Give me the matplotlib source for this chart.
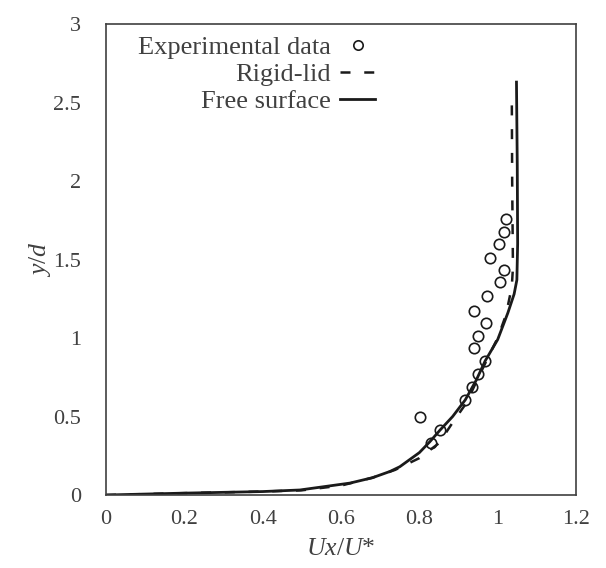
import matplotlib
matplotlib.use("Agg")
import matplotlib.pyplot as plt

plt.rcParams['font.family'] = ['Liberation Serif', 'DejaVu Serif']
plt.rcParams['mathtext.fontset'] = 'custom'
plt.rcParams['mathtext.it'] = 'Liberation Serif:italic'
plt.rcParams['mathtext.rm'] = 'Liberation Serif'

# Experimental data
exp_x = [1.021, 1.015, 1.003, 0.980, 1.016, 1.006, 0.973, 0.940, 0.970, 0.950,
         0.940, 0.968, 0.950, 0.934, 0.917, 0.802, 0.853, 0.830]
exp_y = [1.758, 1.675, 1.599, 1.510, 1.433, 1.357, 1.268, 1.172, 1.096, 1.013,
         0.936, 0.854, 0.771, 0.688, 0.605, 0.497, 0.414, 0.331]

# Rigid-lid model
rl_x = [0.0, 0.2, 0.4, 0.5, 0.6, 0.68, 0.738, 0.80, 0.85, 0.886, 0.92, 0.95,
        0.98, 1.0, 1.021, 1.036, 1.039, 1.037, 1.036]
rl_y = [0.0, 0.012, 0.022, 0.03, 0.06, 0.11, 0.16, 0.235, 0.33, 0.465, 0.586,
        0.745, 0.9, 1.0, 1.146, 1.325, 1.45, 2.0, 2.56]

# Free-surface model
fs_x = [0.0, 0.2, 0.4, 0.495, 0.623, 0.68, 0.725, 0.75, 0.80, 0.827, 0.853,
        0.885, 0.917, 0.945, 0.968, 1.0, 1.026, 1.042, 1.049, 1.051, 1.050, 1.048]
fs_y = [0.0, 0.012, 0.022, 0.032, 0.076, 0.11, 0.15, 0.18, 0.27, 0.34, 0.414,
        0.50, 0.605, 0.73, 0.854, 0.99, 1.16, 1.28, 1.37, 1.6, 2.1, 2.63]

x_ticks = [0, 0.2, 0.4, 0.6, 0.8, 1, 1.2]
x_tick_labels = ['0', '0.2', '0.4', '0.6', '0.8', '1', '1.2']
y_ticks = [0, 0.5, 1, 1.5, 2, 2.5, 3]
y_tick_labels = ['0', '0.5', '1', '1.5', '2', '2.5', '3']

fig = plt.figure(figsize=(6.06, 5.68), dpi=100)
ax = fig.add_axes([0.175, 0.1285, 0.7755, 0.8292])

line_col = '#1a1a1a'
ax.plot(exp_x, exp_y, linestyle='none', marker='o', markersize=7.5,
        markerfacecolor='none', markeredgecolor=line_col, markeredgewidth=1.2,
        label='Experimental data')
ax.plot(rl_x, rl_y, linestyle=(0, (4, 5.5)), color=line_col, linewidth=1.8,
        label='Rigid-lid')
ax.plot(fs_x, fs_y, linestyle='-', color=line_col, linewidth=2.0,
        label='Free surface')

ax.set_xlim(0, 1.2)
ax.set_ylim(0, 3)
ax.set_xticks(x_ticks)
ax.set_xticklabels(x_tick_labels)
ax.set_yticks(y_ticks)
ax.set_yticklabels(y_tick_labels)
ax.tick_params(length=0, labelsize=16, labelcolor='#404040')
ax.tick_params(axis='x', pad=11)
ax.tick_params(axis='y', pad=18)

for s in ax.spines.values():
    s.set_color('#404040')
    s.set_linewidth(1.2)

ax.set_xlabel('$Ux/U$*', fontsize=18.5, color='#404040', labelpad=6)
ax.set_ylabel('$y/d$', fontsize=18.5, color='#404040', labelpad=0)

leg = ax.legend(loc='upper left', bbox_to_anchor=(0.045, 0.997), frameon=False,
                markerfirst=False, fontsize=19, handlelength=1.35,
                handletextpad=0.35, labelspacing=0.12, borderaxespad=0.0,
                markerscale=0.9)
for t in leg.get_texts():
    t.set_color('#404040')
    t.set_ha('right')
leg._legend_box.align = 'right'

fig.savefig('out.png', dpi=100)
